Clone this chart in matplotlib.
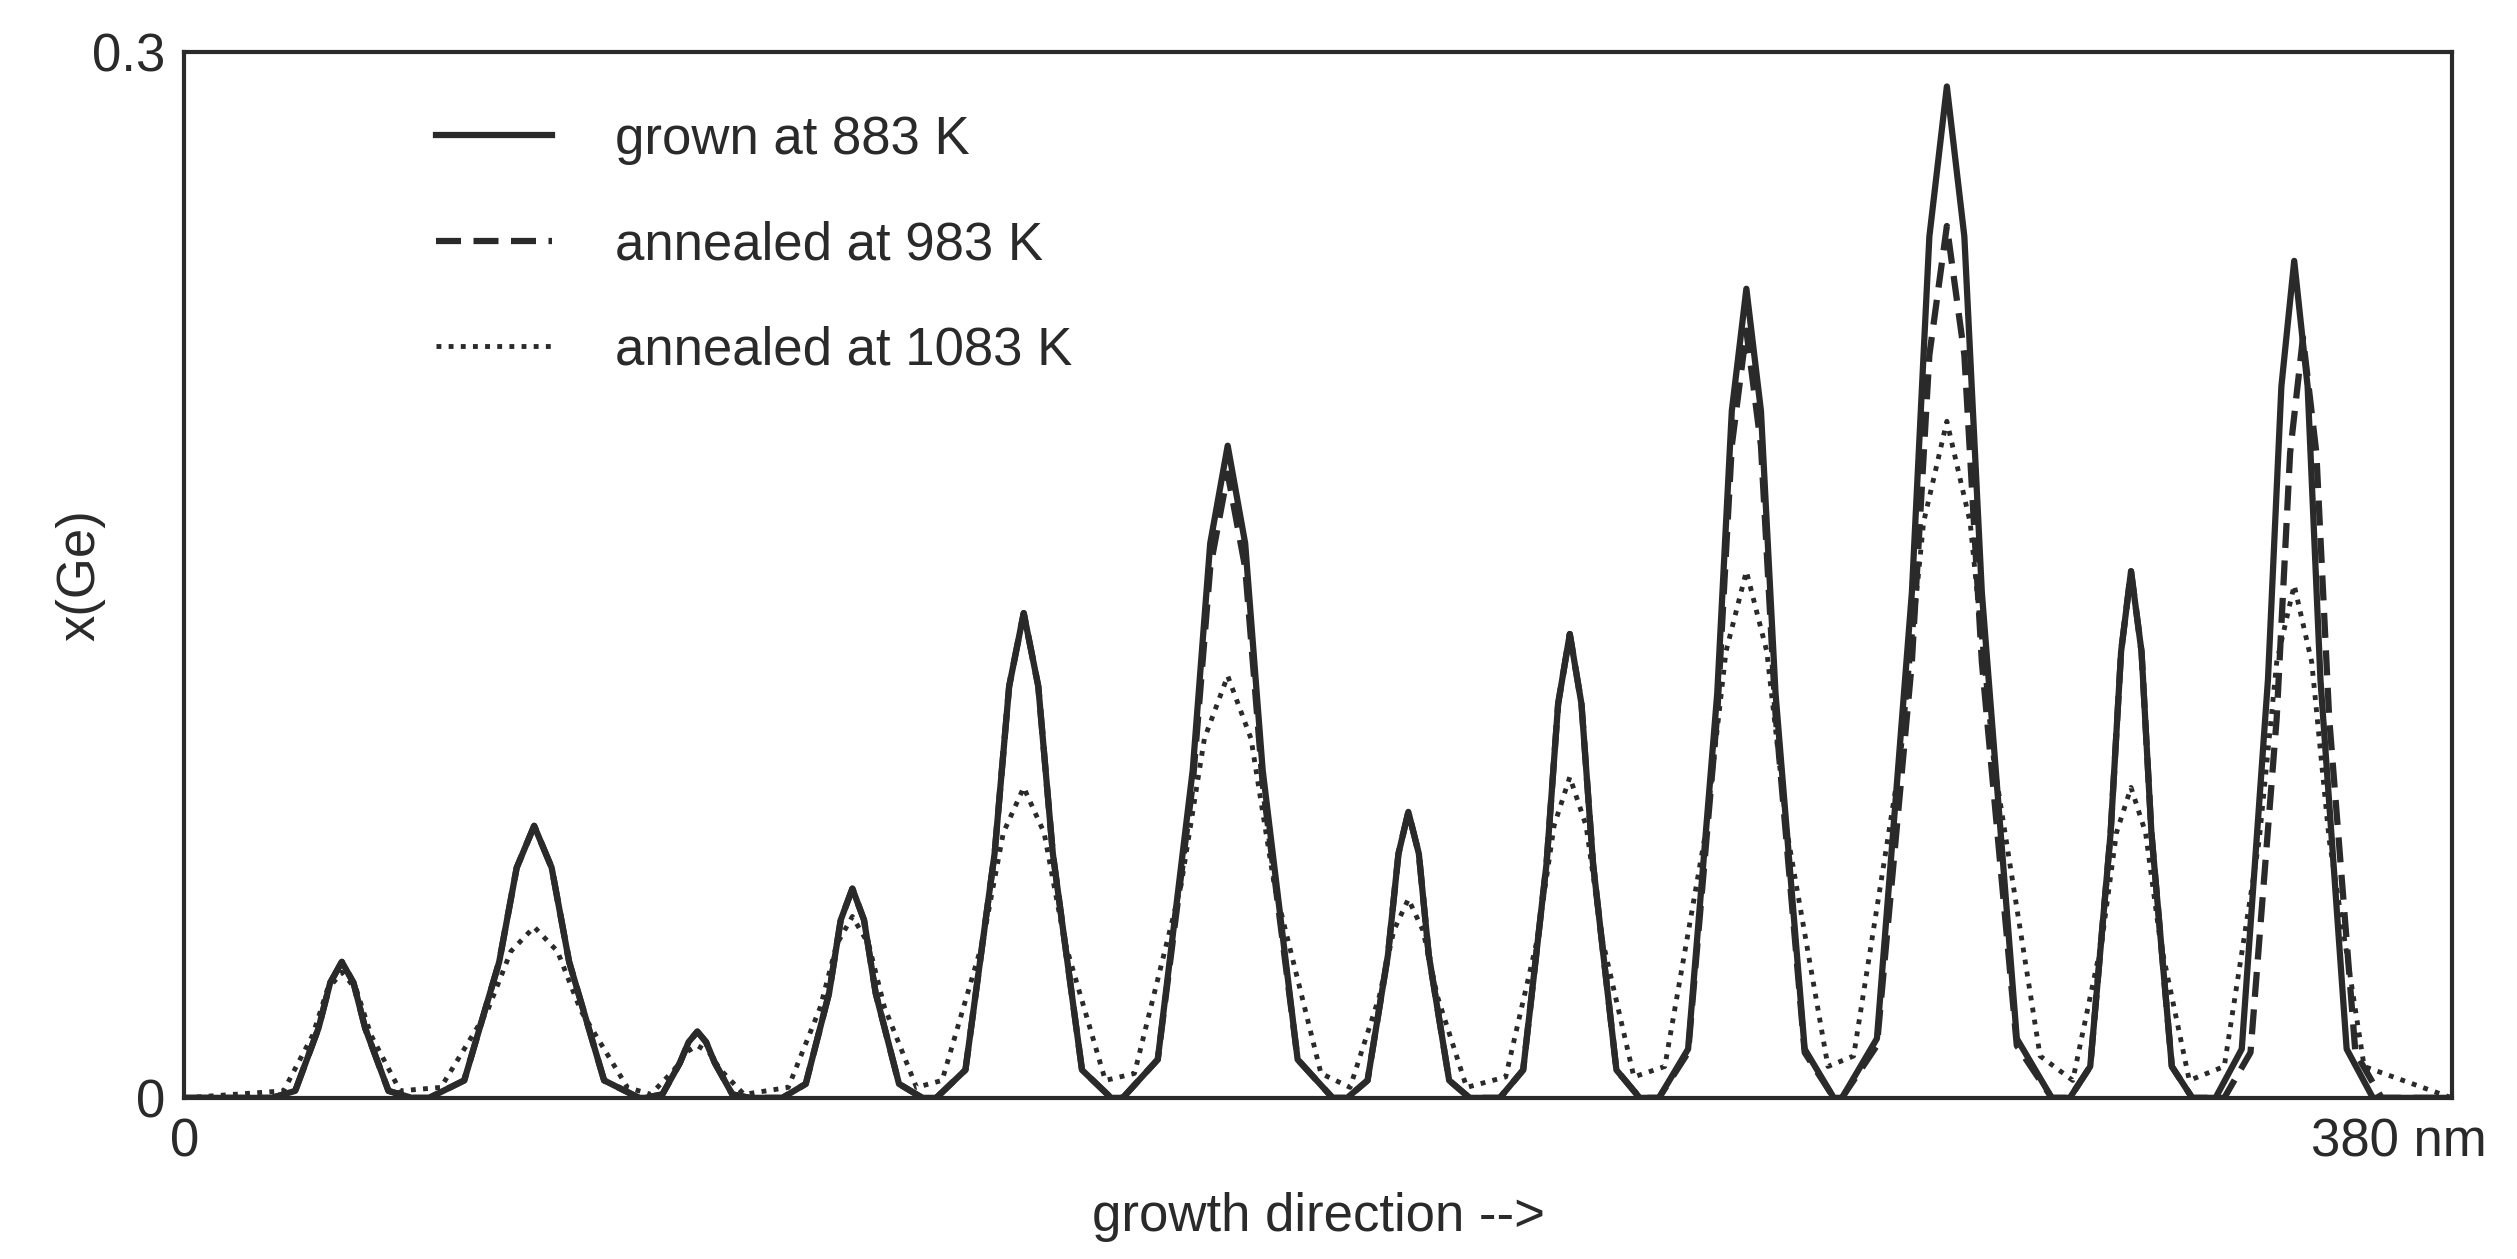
import matplotlib
matplotlib.use("Agg")
import matplotlib.pyplot as plt

plt.rcParams["font.family"] = "Liberation Sans"

# growth direction (nm) and x(Ge) sample points
solid_x = [0,
    15,19,23,25,27,29,31,35,39,
    42,48,54,57,60,63,66,72,78,
    79,82,85,86.5,88,89.5,91,94,97,
    102.6,106.6,110.6,112.6,114.6,116.6,118.6,122.6,126.6,
    129,134,139,141.5,144,146.5,149,154,159,
    161,167,173,176,179,182,185,191,197,
    199.5,203,206.5,208.3,210,211.8,213.5,217,220.5,
    225.7,229.7,233.7,235.7,237.7,239.7,241.7,245.7,249.7,
    253,258,263,265.5,268,270.5,273,278,283,
    284.4,290.4,296.4,299.4,302.4,305.4,308.4,314.4,320.4,
    323.5,327,330.5,332.3,334,335.8,337.5,341,344.5,
    348.5,353,357.5,359.8,362,364.3,366.5,371,375.5,
    389]
solid_y = [0,
    0,.002,.020,.033,.039,.033,.020,.002,0,
    0,.005,.039,.066,.078,.066,.039,.005,0,
    0,.001,.010,.016,.019,.016,.010,.001,0,
    0,.004,.030,.051,.060,.051,.030,.004,0,
    0,.008,.070,.118,.139,.118,.070,.008,0,
    0,.011,.094,.159,.187,.159,.094,.011,0,
    0,.005,.041,.070,.082,.070,.041,.005,0,
    0,.008,.067,.113,.133,.113,.067,.008,0,
    0,.014,.116,.197,.232,.197,.116,.014,0,
    0,.017,.145,.247,.290,.247,.145,.017,0,
    0,.009,.076,.128,.151,.128,.076,.009,0,
    0,.014,.120,.204,.240,.204,.120,.014,0,
    0]

dashed_x = [0,
    15,19,23,25,27,29,31,35,39,
    42,48,54,57,60,63,66,72,78,
    79,82,85,86.5,88,89.5,91,94,97,
    102.6,106.6,110.6,112.6,114.6,116.6,118.6,122.6,126.6,
    129,134,139,141.5,144,146.5,149,154,159,
    161,167,173,176,179,182,185,191,197,
    199.5,203,206.5,208.3,210,211.8,213.5,217,220.5,
    225.7,229.7,233.7,235.7,237.7,239.7,241.7,245.7,249.7,
    253,258,263,265.5,268,270.5,273,278,283,
    284.4,290.4,296.4,299.4,302.4,305.4,308.4,314.4,320.4,
    323.5,327,330.5,332.3,334,335.8,337.5,341,344.5,
    350,354.5,359,361.3,363.5,365.8,368,372.5,377,
    389]
dashed_y = [0,
    0,.002,.020,.033,.039,.033,.020,.002,0,
    0,.005,.039,.066,.078,.066,.039,.005,0,
    0,.001,.010,.016,.019,.016,.010,.001,0,
    0,.004,.030,.051,.060,.051,.030,.004,0,
    0,.008,.070,.118,.139,.118,.070,.008,0,
    0,.011,.090,.152,.179,.152,.090,.011,0,
    0,.005,.041,.070,.082,.070,.041,.005,0,
    0,.008,.067,.113,.133,.113,.067,.008,0,
    0,.013,.110,.187,.220,.187,.110,.013,0,
    0,.015,.125,.213,.250,.213,.125,.015,0,
    0,.009,.076,.128,.151,.128,.076,.009,0,
    0,.013,.109,.185,.218,.185,.109,.013,0,
    0]

dotted_x = [0,
    17,22,24.5,27,29.5,32,37,
    44,52,56,60,64,68,76,
    80,84,86,88,90,92,96,
    103.6,109.1,111.9,114.6,117.4,120.1,125.6,
    130,137,140.5,144,147.5,151,158,
    163,171,175,179,183,187,195,
    200,205,207.5,210,212.5,215,220,
    226.7,232.2,235,237.7,240.5,243.2,248.7,
    254,261,264.5,268,271.5,275,282,
    286.4,294.4,298.4,302.4,306.4,310.4,318.4,
    324,329,331.5,334,336.5,339,344,
    350,356,359,362,365,368,374,
    389]
dotted_y = [0,
    .002,.018,.031,.036,.031,.018,.002,
    .003,.025,.042,.049,.042,.025,.003,
    .001,.008,.013,.015,.013,.008,.001,
    .003,.026,.044,.052,.044,.026,.003,
    .005,.045,.076,.089,.076,.045,.005,
    .007,.061,.103,.121,.103,.061,.007,
    .003,.029,.048,.057,.048,.029,.003,
    .006,.046,.078,.092,.078,.046,.006,
    .009,.076,.128,.151,.128,.076,.009,
    .012,.097,.165,.194,.165,.097,.012,
    .005,.045,.076,.089,.076,.045,.005,
    .009,.074,.125,.147,.125,.074,.009,
    0]

labels = ["grown at 883 K", "annealed at 983 K", "annealed at 1083 K"]

fig = plt.figure(figsize=(25.17, 12.59), dpi=100)
ax = fig.add_axes([0.0733, 0.128, 0.9007, 0.831])
c = "#2a2a2a"
ax.plot(solid_x, solid_y, color=c, lw=4.5, label=labels[0])
ax.plot(dashed_x, dashed_y, color=c, lw=4.5, ls=(0, (4, 2)), label=labels[1])
ax.plot(dotted_x, dotted_y, color=c, lw=3.5, ls=(0, (1, 1.5)), label=labels[2])

ax.set_xlim(0, 389)
ax.set_ylim(0, 0.3)
ax.set_xticks([0, 380])
ax.set_xticklabels(["0", "380 nm"])
ax.set_yticks([0, 0.3])
ax.set_yticklabels(["0", "0.3"])
ax.tick_params(length=0, labelsize=38, pad=14, colors=c)
for s in ax.spines.values():
    s.set_linewidth(3)
    s.set_color(c)
ax.set_xlabel("growth direction -->", fontsize=38, labelpad=18, color=c)
ax.set_ylabel("x(Ge)", fontsize=38, labelpad=-10, color=c)

leg = ax.legend(loc="upper left", bbox_to_anchor=(0.09, 0.985), frameon=False,
                fontsize=38, handlelength=2.2, labelspacing=1.05, handletextpad=1.2)
for t in leg.get_texts():
    t.set_color(c)

fig.savefig("out.png", dpi=100, facecolor="white")
